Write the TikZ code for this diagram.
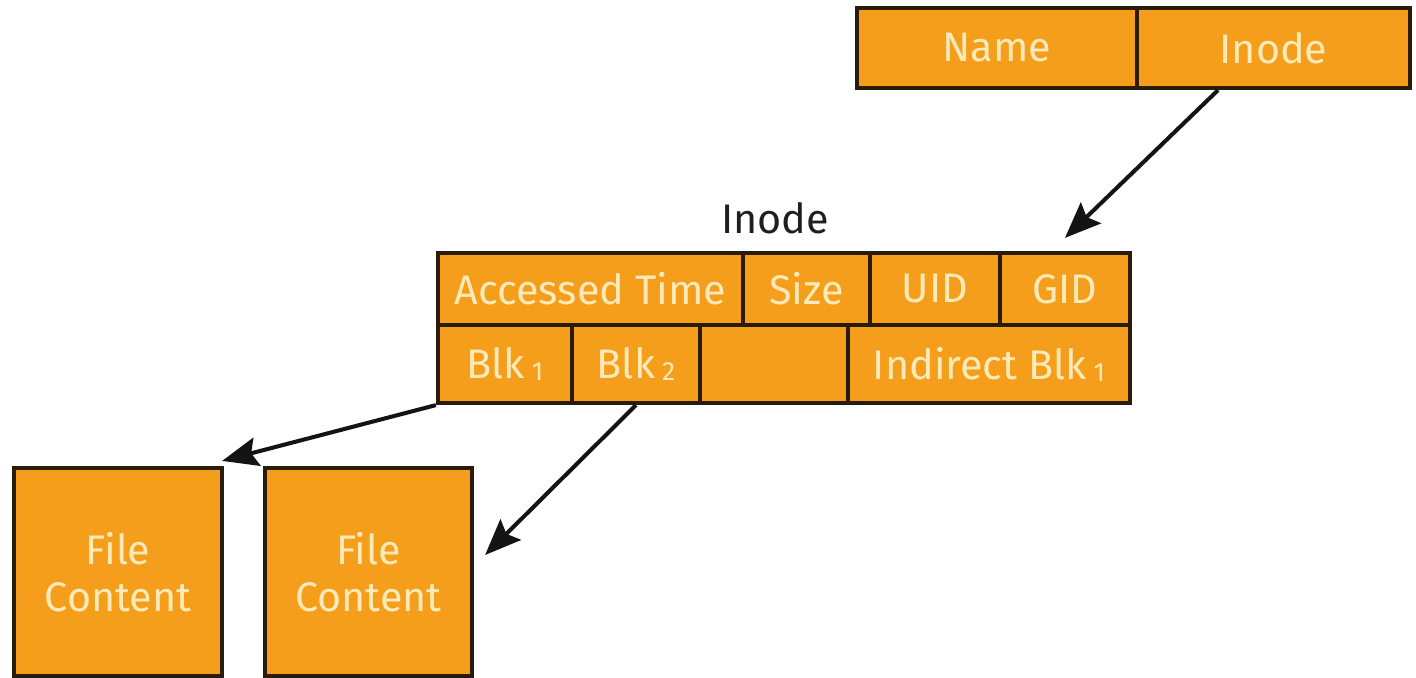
\documentclass[tikz,border=0pt]{standalone}
\usepackage{fontspec}
\setmainfont{Fira Sans}
\usetikzlibrary{arrows.meta,calc}
\definecolor{cellfill}{HTML}{F59E1C}
\definecolor{cellline}{HTML}{2A1C0A}
\definecolor{celltext}{HTML}{FDEAB8}
\tikzset{
  cell/.style={draw=cellline, fill=cellfill, line width=2.4pt, inner sep=0pt,
    text=celltext, font=\fontsize{23.5}{27}\selectfont, align=center},
  conn/.style={draw=black!92, line width=2.3pt,
    -{Stealth[length=0.72cm,width=0.58cm,inset=0.12cm]}},
}
\begin{document}
\begin{tikzpicture}[x=0.02cm,y=-0.02cm]
\useasboundingbox (0,0) rectangle (1416,678);
% directory entry
\node[cell, minimum width=280*0.02cm, minimum height=80*0.02cm] (name) at (997,48) {Name};
\node[cell, minimum width=273*0.02cm, minimum height=80*0.02cm] (tinode) at (1273.5,48) {Inode};
% inode label
\node[font=\fontsize{23.5}{27}\selectfont, text=black!88] (ilabel) at (775,218) {Inode};
% inode table, top row
\node[cell, minimum width=305*0.02cm, minimum height=72*0.02cm] (atime) at (590.5,289) {Accessed Time};
\node[cell, minimum width=127*0.02cm, minimum height=72*0.02cm] (size) at (806.5,289) {Size};
\node[cell, minimum width=130*0.02cm, minimum height=72*0.02cm] (uid) at (935,289) {UID};
\node[cell, minimum width=130*0.02cm, minimum height=72*0.02cm] (gid) at (1065,289) {GID};
% bottom row
\node[cell, minimum width=134*0.02cm, minimum height=78*0.02cm] (blk1) at (505,364) {Blk\,\raisebox{-0.1ex}{\fontsize{15}{17}\selectfont 1}};
\node[cell, minimum width=128*0.02cm, minimum height=78*0.02cm] (blk2) at (636,364) {Blk\,\raisebox{-0.1ex}{\fontsize{15}{17}\selectfont 2}};
\node[cell, minimum width=148*0.02cm, minimum height=78*0.02cm] (empty) at (774,364) {};
\node[cell, minimum width=282*0.02cm, minimum height=78*0.02cm] (ind) at (989,364) {Indirect Blk\,\raisebox{-0.1ex}{\fontsize{15}{17}\selectfont 1}};
% file content
\node[cell, minimum width=208*0.02cm, minimum height=208*0.02cm] (fc1) at (118,572) {File\\[0pt]Content};
\node[cell, minimum width=207*0.02cm, minimum height=208*0.02cm] (fc2) at (368.5,572) {File\\[0pt]Content};
% connectors
\draw[conn] ($(tinode.south west)!0.3!(tinode.south east)$) -- ([yshift=0.26cm]gid.north);
\draw[conn] (blk1.south west) -- ([yshift=0.1cm,xshift=-0.04cm]fc1.north east);
\draw[conn] (blk2.south) -- ([xshift=0.22cm,yshift=0.34cm]fc2.east);
\end{tikzpicture}
\end{document}
